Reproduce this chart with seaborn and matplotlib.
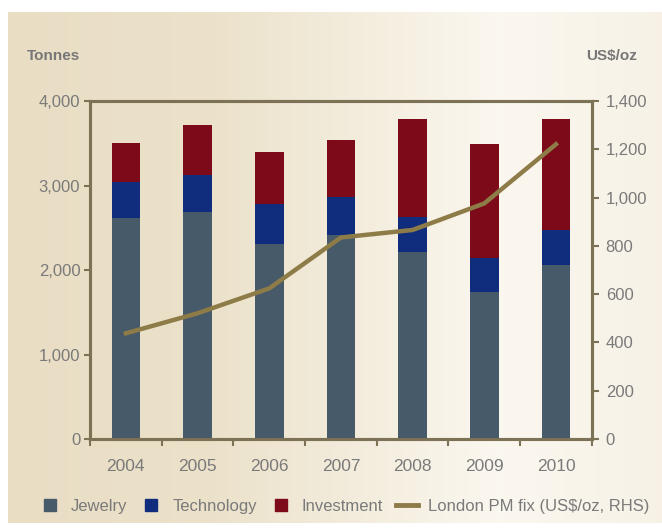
import numpy as np
import matplotlib
matplotlib.use("Agg")
import matplotlib.pyplot as plt
import seaborn as sns
from matplotlib.lines import Line2D

# dados
years = ["2004", "2005", "2006", "2007", "2008", "2009", "2010"]
jewelry = [2620, 2690, 2305, 2415, 2210, 1735, 2065]
technology = [425, 435, 475, 455, 415, 410, 410]
investment = [455, 590, 620, 670, 1165, 1345, 1315]
price = [438, 521, 624, 835, 866, 976, 1221]

left_ticks = [0, 1000, 2000, 3000, 4000]
right_ticks = [0, 200, 400, 600, 800, 1000, 1200, 1400]

c_jew = "#475a69"
c_tech = "#102c7c"
c_inv = "#7c0a19"
c_line = "#8e7c48"
c_frame = "#7d7256"
c_text = "#7a7a7a"

plt.rcParams["font.family"] = ["Liberation Sans", "DejaVu Sans"]

fig = plt.figure(figsize=(6.62, 5.29), dpi=100)

# fundo em degradê bege -> claro
bg = fig.add_axes([0, 0, 1, 1], zorder=-10)
bg.axis("off")
xs = np.linspace(0, 1, 300)
mix = np.interp(xs, [0, 0.3, 0.55, 0.75, 0.88, 1.0], [0, 0.12, 0.55, 0.9, 0.8, 0.7])
beige = np.array([233, 222, 196]) / 255
light = np.array([253, 250, 244]) / 255
row = beige[None, :] * (1 - mix[:, None]) + light[None, :] * mix[:, None]
grad = np.repeat(row[None, :, :], 60, axis=0)
bg.imshow(grad, extent=[0.012, 1, 0.012, 0.977], aspect="auto", interpolation="bilinear")
bg.set_xlim(0, 1)
bg.set_ylim(0, 1)

ax = fig.add_axes([0.136, 0.170, 0.758, 0.639])
ax.patch.set_alpha(0)

totals = np.array(jewelry) + np.array(technology) + np.array(investment)
jew_tech = np.array(jewelry) + np.array(technology)

sns.barplot(x=years, y=totals, color=c_inv, width=0.4, saturation=1,
            errorbar=None, linewidth=0, ax=ax)
sns.barplot(x=years, y=jew_tech, color=c_tech, width=0.4, saturation=1,
            errorbar=None, linewidth=0, ax=ax)
sns.barplot(x=years, y=jewelry, color=c_jew, width=0.4, saturation=1,
            errorbar=None, linewidth=0, ax=ax)

ax.set_xlim(-0.5, 6.5)
ax.set_ylim(0, 4000)
ax.set_yticks(left_ticks)
ax.set_yticklabels([f"{v:,}" for v in left_ticks])
ax.set_xticks(np.arange(-0.5, 7, 1), minor=True)
ax.tick_params(axis="y", direction="out", length=4, width=1.5, color=c_frame,
               labelcolor=c_text, labelsize=12, pad=3)
ax.tick_params(axis="x", which="major", length=0, pad=14,
               labelcolor=c_text, labelsize=12.5)
ax.tick_params(axis="x", which="minor", direction="out", length=5, width=1.5,
               color=c_frame)
ax.set_xlabel("")
ax.set_ylabel("")

ax2 = ax.twinx()
sns.lineplot(x=np.arange(len(years)), y=price, color=c_line, linewidth=3.2, ax=ax2)
ax2.set_ylim(0, 1400)
ax2.set_yticks(right_ticks)
ax2.set_yticklabels([f"{v:,}" for v in right_ticks])
ax2.tick_params(axis="y", direction="out", length=5, width=1.5, color=c_frame,
                labelcolor=c_text, labelsize=12, pad=5)
ax2.set_ylabel("")

for a in (ax, ax2):
    for s in a.spines.values():
        s.set_color(c_frame)
        s.set_linewidth(2.2)

fig.text(0.041, 0.895, "Tonnes", fontsize=11, fontweight="bold", color="#777777", va="center")
fig.text(0.962, 0.895, "US$/oz", fontsize=11, fontweight="bold", color="#777777",
         va="center", ha="right")

handles = [
    Line2D([], [], marker="s", linestyle="none", markersize=8, color=c_jew),
    Line2D([], [], marker="s", linestyle="none", markersize=8, color=c_tech),
    Line2D([], [], marker="s", linestyle="none", markersize=8, color=c_inv),
    Line2D([], [], color=c_line, linewidth=3.5),
]
labels = ["Jewelry", "Technology", "Investment", "London PM fix (US$/oz, RHS)"]
fig.legend(handles, labels, loc="center", bbox_to_anchor=(0.52, 0.043), ncol=4,
           frameon=False, fontsize=12, handlelength=1.3, handletextpad=0.6,
           columnspacing=0.8, labelcolor=c_text)

fig.savefig("out.png", dpi=100)
